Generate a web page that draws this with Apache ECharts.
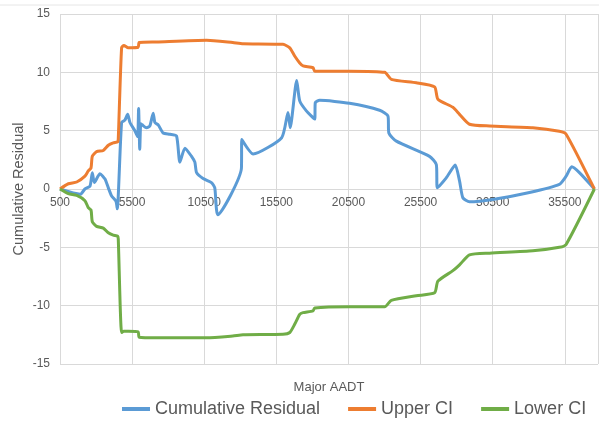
<!DOCTYPE html>
<html>
<head>
<meta charset="utf-8">
<script src="https://cdn.jsdelivr.net/npm/echarts@6/dist/echarts.min.js"></script>
<style>html,body{margin:0;padding:0;background:#fff}#c{width:599px;height:421px}</style>
</head>
<body>
<div id="c"></div>
<script>
const residX = [500, 1900, 2230, 2580, 2740, 2880, 3270, 3620, 3850, 4080, 4380, 4470, 4770, 5000, 5190, 5350, 5690, 5880, 5950, 6030, 6100, 6200, 6500, 6730, 6960, 7080, 7310, 7650, 8120, 8580, 8810, 9160, 9620, 9850, 9970, 10420, 11000, 11230, 11440, 13080, 13100, 13890, 15870, 16310, 16460, 16910, 17120, 17580, 18160, 18200, 18500, 20580, 22660, 23240, 23300, 23820, 26120, 26590, 26660, 27280, 27900, 28200, 28430, 28890, 30500, 33050, 35120, 35590, 35980, 36510, 37550];
const residY = [0, -0.45, 0, 0.25, 1.4, 0.55, 1.3, 0.85, 0.1, -0.6, -1.05, -1.7, 5.7, 5.9, 6.4, 5.7, 5.0, 4.5, 6.9, 3.4, 5.6, 5.5, 5.25, 5.4, 6.5, 5.7, 5.5, 4.8, 4.7, 4.55, 2.3, 3.5, 2.8, 2.3, 1.4, 0.9, 0.55, 0.1, -2.2, 1.8, 4.25, 3.0, 4.4, 6.55, 5.25, 9.3, 7.55, 6.7, 6.0, 7.4, 7.6, 7.35, 6.75, 6.25, 4.8, 4.1, 2.8, 2.1, 0.1, 0.95, 2.05, 0.7, -0.75, -1.1, -0.9, -0.3, 0.4, 1.1, 1.9, 1.4, 0];
const ciX = [500, 1080, 1660, 2230, 2460, 2650, 2740, 3040, 3500, 3850, 4190, 4500, 4540, 4770, 4930, 5230, 5920, 5990, 7200, 10660, 12480, 13190, 15960, 16430, 16770, 17120, 17350, 18040, 18160, 20580, 23010, 23470, 25200, 26470, 26700, 27740, 28200, 28890, 30280, 33280, 35120, 35590, 37550];
const upperY = [0, 0.45, 0.6, 1.1, 1.55, 1.8, 2.8, 3.2, 3.3, 3.75, 3.95, 4.05, 4.3, 12.1, 12.3, 12.1, 12.15, 12.55, 12.6, 12.75, 12.55, 12.45, 12.4, 12.1, 11.4, 10.8, 10.55, 10.4, 10.1, 10.1, 10.0, 9.4, 9.1, 8.75, 7.7, 7.0, 6.4, 5.55, 5.4, 5.25, 4.95, 4.7, 0];
const lowerY = [0, -0.4, -0.55, -1.0, -1.6, -1.8, -2.8, -3.2, -3.35, -3.75, -3.95, -4.05, -4.3, -12.3, -12.2, -12.2, -12.25, -12.7, -12.75, -12.75, -12.6, -12.5, -12.45, -12.3, -11.6, -10.75, -10.6, -10.45, -10.2, -10.1, -10.1, -9.55, -9.15, -8.9, -7.9, -7.0, -6.5, -5.65, -5.5, -5.3, -5.0, -4.75, 0];
const seriesNames = ['Cumulative Residual', 'Upper CI', 'Lower CI'];
const xTitle = 'Major AADT';
const yTitle = 'Cumulative Residual';

const zip = (xs, ys) => xs.map((x, i) => [x, ys[i]]);
const font = 'Liberation Sans, Arial, sans-serif';
const chart = echarts.init(document.getElementById('c'), null, {renderer: 'canvas'});
const mk = (name, data, color) => ({
  name, type: 'line', data, symbol: 'none', smooth: 0.2,
  lineStyle: {color, width: 3}, itemStyle: {color}
});
const gridTop = 14, gridBottom = 57, H = 421;
// pixel position of y=0 relative to bottom of grid (y range symmetric -> middle)
const zeroOffset = -((H - gridTop - gridBottom) / 2);
chart.setOption({
  animation: false,
  backgroundColor: '#fff',
  textStyle: {fontFamily: font},
  graphic: [{type: 'line', shape: {x1: 0, y1: 5, x2: 599, y2: 5}, style: {stroke: '#e6e6e6', lineWidth: 1}}],
  grid: {left: 60, right: 1, top: gridTop, bottom: gridBottom, containLabel: false, outerBoundsMode: 'none'},
  legend: {
    data: seriesNames, left: 117, top: 395, itemWidth: 28, itemHeight: 4, itemGap: 28, icon: 'rect',
    textStyle: {fontSize: 18, color: '#595959', fontFamily: font}
  },
  xAxis: {
    type: 'value', min: 500, max: 37800, interval: 5000,
    position: 'bottom', offset: zeroOffset,
    name: xTitle, nameLocation: 'middle', nameGap: 192, nameMoveOverlap: false,
    nameTextStyle: {fontSize: 13, color: '#595959'},
    axisLine: {show: true, onZero: false, lineStyle: {color: '#d9d9d9'}},
    axisTick: {show: false},
    axisLabel: {color: '#595959', fontSize: 12, margin: 8, showMaxLabel: false, formatter: v => String(v)},
    splitLine: {show: true, lineStyle: {color: '#d9d9d9'}}
  },
  yAxis: {
    type: 'value', min: -15, max: 15, interval: 5,
    name: yTitle, nameLocation: 'middle', nameGap: 34, nameMoveOverlap: false,
    nameTextStyle: {fontSize: 14.5, color: '#595959'},
    axisLine: {show: false}, axisTick: {show: false},
    axisLabel: {color: '#595959', fontSize: 12, margin: 10},
    splitLine: {show: true, lineStyle: {color: '#d9d9d9'}}
  },
  series: [
    mk(seriesNames[0], zip(residX, residY), '#5B9BD5'),
    mk(seriesNames[1], zip(ciX, upperY), '#ED7D31'),
    mk(seriesNames[2], zip(ciX, lowerY), '#70AD47')
  ]
});
</script>
</body>
</html>
